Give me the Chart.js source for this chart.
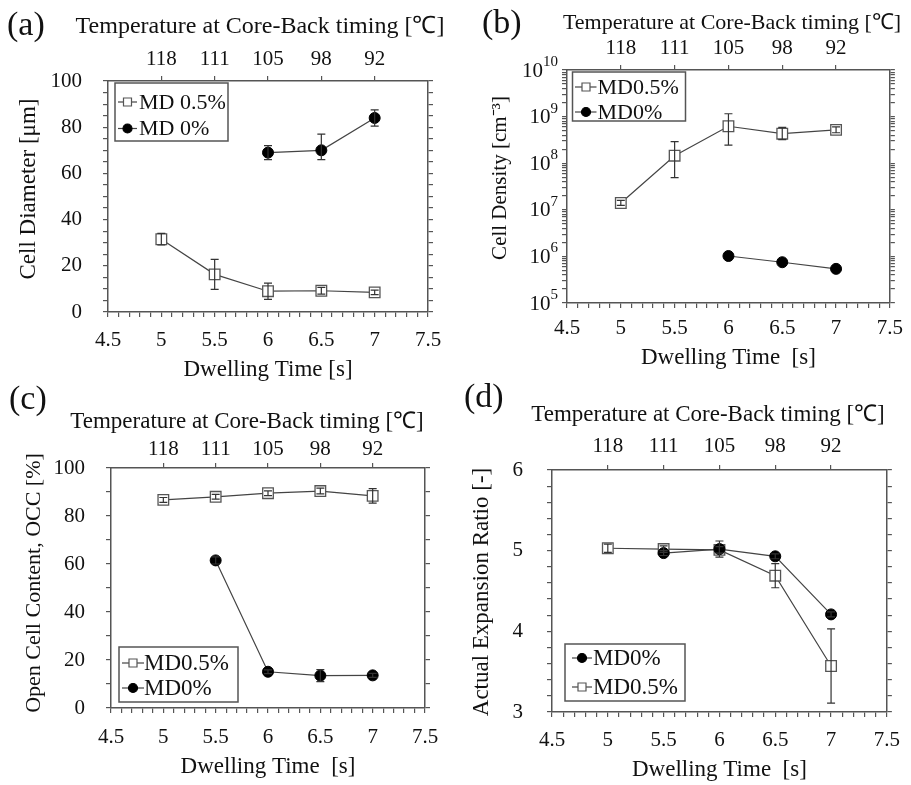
<!DOCTYPE html>
<html>
<head>
<meta charset="utf-8">
<script src="https://cdn.jsdelivr.net/npm/chart.js@4.4.1/dist/chart.umd.min.js"></script>
<style>
  body { margin: 0; background: #fff; }
  #wrap { position: relative; width: 911px; height: 785px; overflow: hidden; }
  canvas { position: absolute; }
</style>
</head>
<body>
<div id="wrap">
  <canvas id="chartA" width="455" height="392" style="left:0;top:0"></canvas>
  <canvas id="chartB" width="456" height="392" style="left:455px;top:0"></canvas>
  <canvas id="chartC" width="455" height="410" style="left:0;top:375px"></canvas>
  <canvas id="chartD" width="456" height="410" style="left:455px;top:375px"></canvas>
</div>
<script>
// shared axis values
const dwellTimes = [5, 5.5, 6, 6.5, 7];
const tempLabels = ['118', '111', '105', '98', '92'];

// (a) Cell Diameter [um]
const diaMD05 = [31.5, 16.3, 9, 9.2, 8.5];
const diaMD05Err = [2.5, 6.5, 3.5, 1.5, 1];
const diaMD0Time = [6, 6.5, 7];
const diaMD0 = [69, 70, 84];
const diaMD0ErrUp = [3, 7, 3.5];
const diaMD0ErrDown = [3, 4, 3.5];

// (b) Cell Density [cm-3]
const denMD05 = [1.4e7, 1.45e8, 6.2e8, 4.3e8, 5.2e8];
const denMD05Hi = [1.6e7, 2.9e8, 1.15e9, 5.9e8, 6e8];
const denMD05Lo = [1.25e7, 4.9e7, 2.45e8, 3.2e8, 4.5e8];
const denMD0Time = [6, 6.5, 7];
const denMD0 = [1.02e6, 7.5e5, 5.4e5];

// (c) Open Cell Content [%]
const occMD05 = [86.7, 88, 89.5, 90.4, 88.4];
const occMD05Err = [1, 1, 1, 1.2, 3];
const occMD0Time = [5.5, 6, 6.5, 7];
const occMD0 = [61.5, 15.1, 13.5, 13.6];
const occMD0Err = [1.5, 0.8, 2.5, 0.8];

// (d) Actual Expansion Ratio [-]
const expMD0Time = [5.5, 6, 6.5, 7];
const expMD0 = [4.97, 5.02, 4.93, 4.21];
const expMD0Err = [0.03, 0.1, 0.03, 0.03];
const expMD05 = [5.03, 5.02, 5.01, 4.69, 3.57];
const expMD05Err = [0.05, 0.04, 0.04, 0.15, 0.46];

const serif = "'Liberation Serif', 'Times New Roman', serif";
const ink = '#111';
const axisGray = '#555';
const onStep = (v, step) => Math.abs(v / step - Math.round(v / step)) < 1e-6;
const fmt = v => String(Math.round(v * 10) / 10);
const plus = (a, b) => a.map((v, i) => v + b[i]);
const minus = (a, b) => a.map((v, i) => v - b[i]);
const pts = (xs, ys) => xs.map((x, i) => ({ x: x, y: ys[i] }));

function squareSet(label, xs, ys, lo, hi) {
    return {
        label: label, data: pts(xs, ys), errLow: lo, errHigh: hi,
        borderColor: '#444', borderWidth: 1.2, tension: 0,
        pointStyle: 'rect', pointRadius: 7.5, pointHoverRadius: 7.5,
        pointBackgroundColor: '#fff', pointBorderColor: '#555', pointBorderWidth: 1.3
    };
}
function circleSet(label, xs, ys, lo, hi) {
    return {
        label: label, data: pts(xs, ys), errLow: lo, errHigh: hi,
        borderColor: '#444', borderWidth: 1.2, tension: 0,
        pointStyle: 'circle', pointRadius: 5.5, pointHoverRadius: 5.5,
        pointBackgroundColor: '#000', pointBorderColor: '#000', pointBorderWidth: 1
    };
}

// vertical error bars, from errLow/errHigh through the y scale
const errorBars = {
    id: 'errorBars',
    afterDatasetsDraw(chart) {
        const ctx = chart.ctx;
        const ys = chart.scales.y;
        ctx.save();
        ctx.strokeStyle = '#333';
        ctx.lineWidth = 1.2;
        chart.data.datasets.forEach((ds, i) => {
            if (!ds.errLow) return;
            chart.getDatasetMeta(i).data.forEach((p, j) => {
                const lo = ys.getPixelForValue(ds.errLow[j]);
                const hi = ys.getPixelForValue(ds.errHigh[j]);
                ctx.beginPath();
                ctx.moveTo(p.x, lo); ctx.lineTo(p.x, hi);
                ctx.moveTo(p.x - 4, lo); ctx.lineTo(p.x + 4, lo);
                ctx.moveTo(p.x - 4, hi); ctx.lineTo(p.x + 4, hi);
                ctx.stroke();
            });
        });
        ctx.restore();
    }
};

// legend box inside the plot area
const boxLegend = {
    id: 'boxLegend',
    afterDraw(chart, args, o) {
        const ctx = chart.ctx, ca = chart.chartArea;
        const x0 = ca.left + o.dx;
        const y0 = o.fromBottom ? ca.bottom - o.dy - o.h : ca.top + o.dy;
        ctx.save();
        ctx.fillStyle = '#fff';
        ctx.fillRect(x0, y0, o.w, o.h);
        ctx.strokeStyle = '#555';
        ctx.lineWidth = 1.5;
        ctx.strokeRect(x0, y0, o.w, o.h);
        ctx.font = o.size + 'px ' + serif;
        ctx.textBaseline = 'middle';
        chart.data.datasets.forEach((ds, i) => {
            const cy = y0 + o.row0 + i * o.rowH;
            const cx = x0 + o.mark;
            ctx.strokeStyle = ds.borderColor;
            ctx.lineWidth = 1.2;
            ctx.beginPath();
            ctx.moveTo(x0 + o.line0, cy); ctx.lineTo(x0 + o.line1, cy);
            ctx.stroke();
            ctx.fillStyle = ds.pointBackgroundColor;
            ctx.strokeStyle = ds.pointBorderColor;
            ctx.lineWidth = 1.2;
            ctx.beginPath();
            if (ds.pointStyle === 'rect') ctx.rect(cx - 4, cy - 4, 8, 8);
            else ctx.arc(cx, cy, 4.5, 0, Math.PI * 2);
            ctx.fill(); ctx.stroke();
            ctx.fillStyle = ink;
            ctx.fillText(ds.label, x0 + o.text, cy + 1);
        });
        ctx.restore();
    }
};

// "10" with a raised exponent at each decade of a log y scale
const powerLabels = {
    id: 'powerLabels',
    afterDraw(chart, args, o) {
        if (!o.on) return;
        const ctx = chart.ctx, sc = chart.scales.y;
        ctx.save();
        ctx.fillStyle = ink;
        ctx.textBaseline = 'middle';
        ctx.textAlign = 'left';
        sc.ticks.forEach(t => {
            const e = Math.log10(t.value);
            if (Math.abs(e - Math.round(e)) > 1e-9) return;
            const py = sc.getPixelForValue(t.value);
            const exp = String(Math.round(e));
            ctx.font = '15px ' + serif;
            const we = ctx.measureText(exp).width;
            ctx.font = '21px ' + serif;
            const wb = ctx.measureText('10').width;
            const right = sc.right - o.gap;
            ctx.fillText('10', right - we - wb, py + 1);
            ctx.font = '15px ' + serif;
            ctx.fillText(exp, right - we, py - 8);
        });
        ctx.restore();
    }
};

// panel letter, header of the top axis and the y title
const panelText = {
    id: 'panelText',
    afterDraw(chart, args, o) {
        const ctx = chart.ctx;
        ctx.save();
        ctx.fillStyle = ink;
        ctx.textBaseline = 'middle';
        ctx.font = '34px ' + serif;
        ctx.textAlign = 'left';
        ctx.fillText(o.letter, o.lx, o.ly);
        ctx.font = o.hSize + 'px ' + serif;
        ctx.textAlign = 'center';
        ctx.fillText('Temperature at Core-Back timing [℃]', o.hx, o.hy);
        ctx.font = o.tSize + 'px ' + serif;
        ctx.translate(o.tx, o.ty);
        ctx.rotate(-Math.PI / 2);
        ctx.fillText(o.yTitle, 0, 0);
        ctx.restore();
    }
};

function makeGrid() {
    return { drawOnChartArea: false, drawTicks: true, tickLength: 5, color: axisGray, lineWidth: 1.2 };
}
function makeBorder() {
    return { display: true, color: axisGray, width: 1.5 };
}

function buildScales(p) {
    return {
        x: {
            type: 'linear', position: 'bottom', min: 4.5, max: 7.5,
            border: makeBorder(), grid: makeGrid(),
            ticks: {
                stepSize: 0.1, autoSkip: false, maxRotation: 0, padding: p.xTickPad,
                color: ink, font: { family: serif, size: 21 },
                callback: v => onStep(v, 0.5) ? fmt(v) : ''
            },
            title: { display: true, text: p.xTitle, color: ink, font: { family: serif, size: 23 }, padding: { top: 0, bottom: p.xTitlePad } },
            afterFit: s => { s.height = p.bottomH; }
        },
        x2: {
            type: 'linear', position: 'top', min: 4.5, max: 7.5,
            border: makeBorder(), grid: makeGrid(),
            afterBuildTicks: s => { s.ticks = dwellTimes.map(v => ({ value: v })); },
            ticks: {
                autoSkip: false, maxRotation: 0, padding: p.x2TickPad,
                color: ink, font: { family: serif, size: 21 },
                callback: (v, i) => tempLabels[i]
            },
            afterFit: s => { s.height = p.topH; }
        },
        y: {
            type: p.yType, position: 'left', min: p.yMin, max: p.yMax,
            border: makeBorder(), grid: makeGrid(),
            afterBuildTicks: p.yTicks,
            ticks: {
                stepSize: p.yStep, autoSkip: false, padding: p.yTickPad,
                color: ink, font: { family: serif, size: 21 },
                callback: p.yLabel
            },
            afterFit: s => { s.width = p.leftW; }
        },
        y2: {
            type: p.yType, position: 'right', min: p.yMin, max: p.yMax,
            border: makeBorder(), grid: makeGrid(),
            afterBuildTicks: p.yTicks,
            ticks: { stepSize: p.yStep, autoSkip: false, display: false },
            afterFit: s => { s.width = p.rightW; }
        }
    };
}

function makeChart(id, datasets, scales, legendOpts, textOpts, powerOpts) {
    return new Chart(document.getElementById(id), {
        type: 'line',
        data: { datasets: datasets },
        options: {
            responsive: false,
            animation: false,
            devicePixelRatio: 1,
            events: [],
            layout: { padding: 0 },
            plugins: {
                legend: { display: false },
                tooltip: { enabled: false },
                boxLegend: legendOpts,
                panelText: textOpts,
                powerLabels: powerOpts || { on: false }
            },
            scales: scales
        },
        plugins: [errorBars, boxLegend, powerLabels, panelText]
    });
}

// (a)
makeChart('chartA',
    [
        squareSet('MD 0.5%', dwellTimes, diaMD05, minus(diaMD05, diaMD05Err), plus(diaMD05, diaMD05Err)),
        circleSet('MD 0%', diaMD0Time, diaMD0, minus(diaMD0, diaMD0ErrDown), plus(diaMD0, diaMD0ErrUp))
    ],
    buildScales({
        yType: 'linear', yMin: 0, yMax: 100, yStep: 5,
        yLabel: v => onStep(v, 20) ? String(v) : '',
        xTitle: 'Dwelling Time [s]',
        leftW: 108, rightW: 27, topH: 81, bottomH: 80,
        xTickPad: 11, x2TickPad: 4, yTickPad: 21, xTitlePad: 8
    }),
    { size: 22, dx: 7, dy: 2, w: 113, h: 58, row0: 19, rowH: 26.5, line0: 3, line1: 22, mark: 12.5, text: 24 },
    { letter: '(a)', lx: 7, ly: 26, hSize: 24, hx: 260, hy: 27, yTitle: 'Cell Diameter [μm]', tSize: 23, tx: 29, ty: 189 }
);

// (b)
makeChart('chartB',
    [
        squareSet('MD0.5%', dwellTimes, denMD05, denMD05Lo, denMD05Hi),
        circleSet('MD0%', denMD0Time, denMD0, null, null)
    ],
    buildScales({
        yType: 'logarithmic', yMin: 1e5, yMax: 1e10,
        yTicks: s => {
            const t = [];
            for (let e = 5; e < 10; e++) {
                for (let m = 1; m < 10; m++) t.push({ value: m * Math.pow(10, e) });
            }
            t.push({ value: 1e10 });
            s.ticks = t;
        },
        yLabel: () => '',
        xTitle: 'Dwelling Time  [s]',
        leftW: 112, rightW: 14, topH: 70, bottomH: 89,
        xTickPad: 8, x2TickPad: 4, yTickPad: 4, xTitlePad: 20
    }),
    { size: 22, dx: 5.5, dy: 2, w: 113, h: 49, row0: 15, rowH: 25, line0: 2.5, line1: 24, mark: 13.5, text: 25 },
    { letter: '(b)', lx: 27, ly: 24, hSize: 22, hx: 277, hy: 23, yTitle: 'Cell Density [cm⁻³]', tSize: 21, tx: 45, ty: 178 },
    { on: true, gap: 9 }
);

// (c)
makeChart('chartC',
    [
        squareSet('MD0.5%', dwellTimes, occMD05, minus(occMD05, occMD05Err), plus(occMD05, occMD05Err)),
        circleSet('MD0%', occMD0Time, occMD0, minus(occMD0, occMD0Err), plus(occMD0, occMD0Err))
    ],
    buildScales({
        yType: 'linear', yMin: 0, yMax: 100, yStep: 10,
        yLabel: v => onStep(v, 20) ? String(v) : '',
        xTitle: 'Dwelling Time  [s]',
        leftW: 111, rightW: 30, topH: 93, bottomH: 77,
        xTickPad: 12, x2TickPad: 1, yTickPad: 21, xTitlePad: 4
    }),
    { size: 23, fromBottom: true, dx: 8, dy: 6, w: 119, h: 55, row0: 16, rowH: 25, line0: 3, line1: 25, mark: 14, text: 25 },
    { letter: '(c)', lx: 9, ly: 25, hSize: 23, hx: 247, hy: 47, yTitle: 'Open Cell Content, OCC [%]', tSize: 22, tx: 34, ty: 208 }
);

// (d)
makeChart('chartD',
    [
        circleSet('MD0%', expMD0Time, expMD0, minus(expMD0, expMD0Err), plus(expMD0, expMD0Err)),
        squareSet('MD0.5%', dwellTimes, expMD05, minus(expMD05, expMD05Err), plus(expMD05, expMD05Err))
    ],
    buildScales({
        yType: 'linear', yMin: 3, yMax: 6, yStep: 0.2,
        yLabel: v => onStep(v, 1) ? String(Math.round(v)) : '',
        xTitle: 'Dwelling Time  [s]',
        leftW: 97, rightW: 24, topH: 95, bottomH: 73,
        xTickPad: 11, x2TickPad: 6, yTickPad: 24, xTitlePad: 1
    }),
    { size: 23, fromBottom: true, dx: 13, dy: 11, w: 120, h: 57, row0: 14, rowH: 29, line0: 7, line1: 27, mark: 17, text: 28 },
    { letter: '(d)', lx: 9, ly: 23, hSize: 23, hx: 253, hy: 40, yTitle: 'Actual Expansion Ratio [-]', tSize: 23, tx: 27, ty: 217 }
);
</script>
</body>
</html>
